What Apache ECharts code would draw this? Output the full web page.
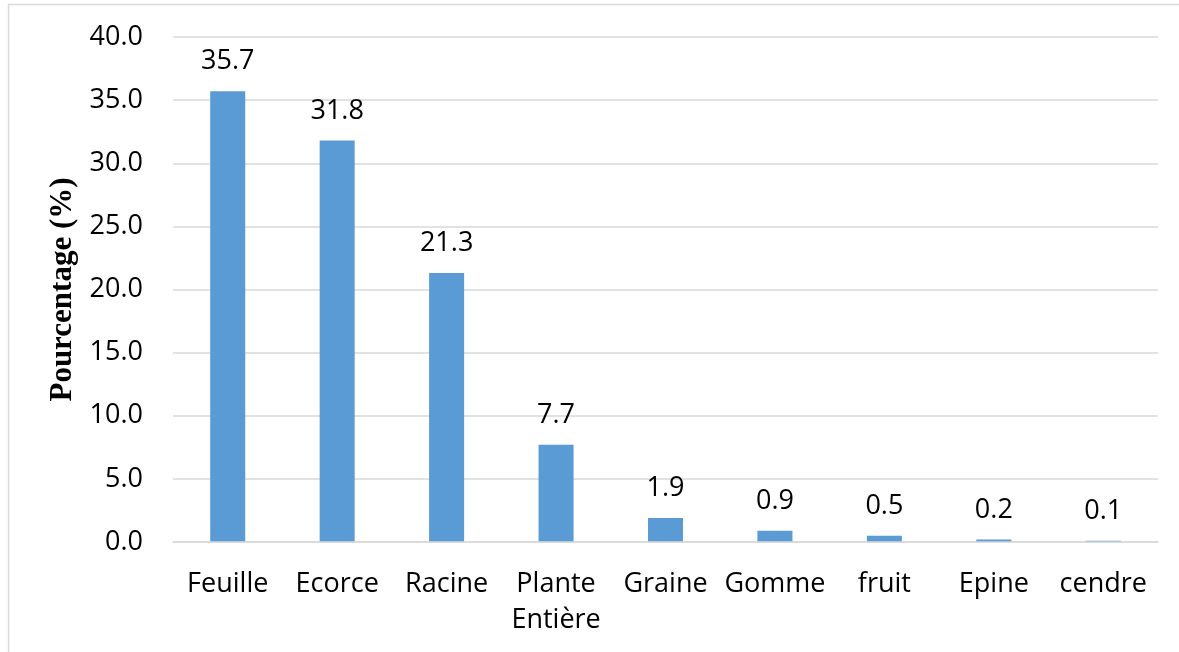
<!DOCTYPE html>
<html>
<head>
<meta charset="utf-8">
<script src="https://cdn.jsdelivr.net/npm/echarts@6/dist/echarts.min.js"></script>
<style>
  html, body { margin: 0; padding: 0; background: #ffffff; }
  #chart { width: 1179px; height: 652px; }
</style>
</head>
<body>
<div id="chart"></div>
<script>
// Plant parts used, share of citations (%)
const categories = ['Feuille', 'Ecorce', 'Racine', 'Plante\nEntière', 'Graine', 'Gomme', 'fruit', 'Epine', 'cendre'];
const percentages = [35.7, 31.8, 21.3, 7.7, 1.9, 0.9, 0.5, 0.2, 0.1];
const yTitle = 'Pourcentage (%)';

const sans = '"Open Sans", "Noto Sans", sans-serif';
const chart = echarts.init(document.getElementById('chart'));

chart.setOption({
  backgroundColor: '#ffffff',
  animation: false,
  graphic: [{
    type: 'rect',
    shape: { x: 8.5, y: 4.5, width: 1300, height: 800 },
    style: { fill: 'none', stroke: '#d9d9d9', lineWidth: 1.5 },
    silent: true
  }],
  grid: { left: 173, right: 21, top: 37, bottom: 110 },
  xAxis: {
    type: 'category',
    data: categories,
    z: 3,
    axisLine: { show: true, lineStyle: { color: '#d9d9d9', width: 1.5 } },
    axisTick: { show: false },
    axisLabel: {
      color: '#000000',
      fontFamily: sans,
      fontSize: 27,
      lineHeight: 36,
      margin: 24,
      interval: 0
    }
  },
  yAxis: {
    type: 'value',
    min: 0,
    max: 40,
    interval: 5,
    name: yTitle,
    nameLocation: 'middle',
    nameGap: 92,
    nameTextStyle: {
      fontFamily: '"Liberation Serif", "Times New Roman", serif',
      fontWeight: 'bold',
      fontSize: 31,
      color: '#000000'
    },
    axisLine: { show: false },
    axisTick: { show: false },
    splitLine: { lineStyle: { color: '#d9d9d9', width: 1.5 } },
    axisLabel: {
      color: '#000000',
      fontFamily: sans,
      fontSize: 27,
      margin: 30,
      formatter: v => v.toFixed(1)
    }
  },
  series: [{
    type: 'bar',
    data: percentages,
    barWidth: '32%',
    itemStyle: { color: '#5b9bd5' },
    label: {
      show: true,
      position: 'top',
      distance: 16,
      color: '#000000',
      fontFamily: sans,
      fontSize: 27,
      formatter: p => p.value.toFixed(1)
    }
  }]
});
</script>
</body>
</html>
